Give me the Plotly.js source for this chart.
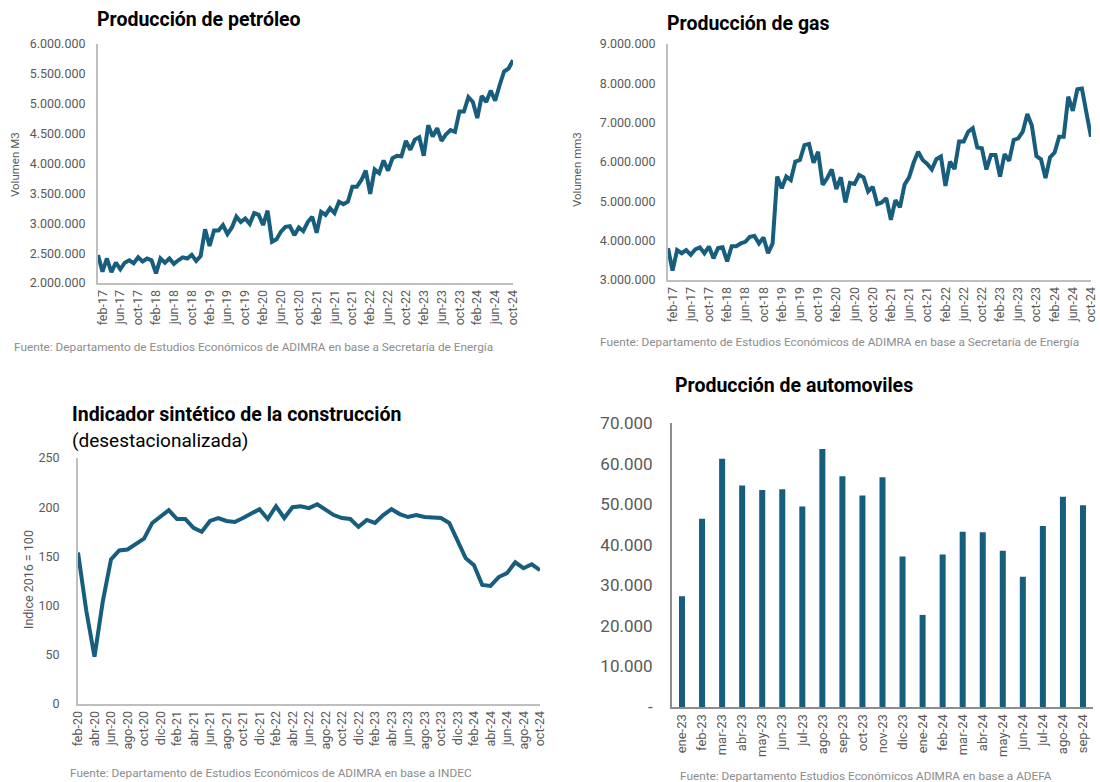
<!DOCTYPE html>
<html>
<head>
<meta charset="utf-8">
<script src="https://cdn.plot.ly/plotly-3.0.1.min.js"></script>
<style>html,body{margin:0;padding:0;background:#fff;}#chart{width:1100px;height:782px;}</style>
</head>
<body>
<div id="chart"></div>
<script>
// ---------- DATA ----------
const monthAbbr = ['ene','feb','mar','abr','may','jun','jul','ago','sep','oct','nov','dic'];

// Petróleo (m3), ene-17 .. oct-24
const oilValues = [
 2470000,2190000,2410000,2180000,2340000,2230000,2340000,2380000,2330000,2430000,
 2360000,2410000,2380000,2160000,2410000,2340000,2410000,2320000,2380000,2430000,
 2410000,2470000,2370000,2450000,2900000,2620000,2880000,2880000,2970000,2820000,
 2930000,3110000,3020000,3080000,2990000,3170000,3140000,2970000,3210000,2690000,
 2730000,2860000,2940000,2950000,2800000,2930000,2870000,3020000,3110000,2840000,
 3190000,3140000,3250000,3170000,3360000,3320000,3360000,3610000,3610000,3720000,
 3880000,3490000,3900000,3840000,4050000,3880000,4090000,4130000,4120000,4380000,
 4230000,4400000,4440000,4130000,4640000,4450000,4590000,4380000,4490000,4560000,
 4530000,4870000,4870000,5110000,5030000,4760000,5130000,5030000,5220000,5050000,
 5310000,5540000,5590000,5730000];

// Gas (mm3), ene-17 .. oct-24
const gasValues = [
 3810000,3240000,3760000,3680000,3760000,3640000,3780000,3830000,3680000,3850000,
 3550000,3810000,3830000,3470000,3860000,3860000,3930000,3970000,4100000,4120000,
 3930000,4080000,3680000,3930000,5630000,5330000,5630000,5540000,6010000,6050000,
 6430000,6460000,5980000,6260000,5420000,5590000,5810000,5310000,5610000,4970000,
 5470000,5440000,5670000,5610000,5250000,5370000,4930000,4970000,5080000,4530000,
 5030000,4850000,5420000,5610000,5980000,6260000,6050000,5950000,5810000,6070000,
 6140000,5390000,6010000,5820000,6520000,6520000,6770000,6860000,6370000,6350000,
 5810000,6180000,6180000,5630000,6200000,6030000,6560000,6600000,6770000,7220000,
 6920000,6150000,6070000,5590000,6120000,6240000,6640000,6640000,7660000,7300000,
 7850000,7870000,7250000,6640000];

const energyTicks = ['feb-17','jun-17','oct-17','feb-18','jun-18','oct-18','feb-19','jun-19','oct-19',
 'feb-20','jun-20','oct-20','feb-21','jun-21','oct-21','feb-22','jun-22','oct-22','feb-23','jun-23',
 'oct-23','feb-24','jun-24','oct-24'];

// Indicador sintético de la construcción, feb-20 .. oct-24
const constrValues = [154,95,48,104,147,156,157,163,168,184,
 190,197,188,188,179,175,186,189,186,185,
 189,193,198,188,201,189,200,201,199,203,
 197,192,189,188,180,187,184,192,198,193,
 190,192,190,189,189,184,167,148,141,121,
 120,129,133,144,138,142,136];
const constrTicks = ['feb-20','abr-20','jun-20','ago-20','oct-20','dic-20','feb-21','abr-21','jun-21',
 'ago-21','oct-21','dic-21','feb-22','abr-22','jun-22','ago-22','oct-22','dic-22','feb-23','abr-23',
 'jun-23','ago-23','oct-23','dic-23','feb-24','abr-24','jun-24','ago-24','oct-24'];

// Producción de automóviles
const autoMonths = ['ene-23','feb-23','mar-23','abr-23','may-23','jun-23','jul-23','ago-23','sep-23',
 'oct-23','nov-23','dic-23','ene-24','feb-24','mar-24','abr-24','may-24','jun-24','jul-24','ago-24','sep-24'];
const autoValues = [27300,46400,61200,54600,53500,53700,49400,63600,56900,52100,56600,37100,
 22700,37600,43200,43100,38500,32100,44600,51800,49700];
const autoTickVals = [0,10000,20000,30000,40000,50000,60000,70000];
const autoTickText = ['-','10.000','20.000','30.000','40.000','50.000','60.000','70.000'];

// ---------- helpers ----------
function monthRange(startMonth, startYear, count){
  const out=[]; let m=startMonth, y=startYear;
  for(let i=0;i<count;i++){ out.push(monthAbbr[m]+'-'+String(y).slice(-2)); m++; if(m>11){m=0;y++;} }
  return out;
}
const energyMonths = monthRange(0, 2017, oilValues.length);
const constrMonths = monthRange(1, 2020, constrValues.length);

const W=1100, H=782;
const px = v => v/W;
const py = v => 1 - v/H;

const LINE = '#165d7e';
const AXC = '#bfbfbf';
const TICKC = '#595959';
const SRC = '#8c8c8c';
const FONT = 'Roboto, "DejaVu Sans", sans-serif';

const traces = [
  {x: energyMonths, y: oilValues, type:'scatter', mode:'lines', line:{color:LINE,width:4}, xaxis:'x', yaxis:'y', hoverinfo:'skip'},
  {x: energyMonths, y: gasValues, type:'scatter', mode:'lines', line:{color:LINE,width:4}, xaxis:'x2', yaxis:'y2', hoverinfo:'skip'},
  {x: constrMonths, y: constrValues, type:'scatter', mode:'lines', line:{color:LINE,width:4}, xaxis:'x3', yaxis:'y3', hoverinfo:'skip'},
  {x: autoMonths, y: autoValues, type:'bar', marker:{color:LINE}, xaxis:'x4', yaxis:'y4', hoverinfo:'skip'}
];

function xax(domain, anchor, range, tickvals, size){
  return {domain, anchor, type:'category', range, tickvals, tickangle:-90, showgrid:false, zeroline:false,
    showline:true, linecolor:AXC, linewidth:2, ticks:'', tickfont:{family:FONT,size:size,color:TICKC}, fixedrange:true};
}
function yax(domain, anchor, range, dtick, size, extra){
  return Object.assign({domain, anchor, range, dtick, tickformat:',d', showgrid:false, zeroline:false,
    showline:true, linecolor:AXC, linewidth:2, ticks:'', ticklabelstandoff:8,
    tickfont:{family:FONT,size:size,color:TICKC}, fixedrange:true}, extra||{});
}
function note(text, x, y, size, color, extra){
  return Object.assign({text, x:px(x), y:py(y), xref:'paper', yref:'paper', xanchor:'left', yanchor:'middle',
    showarrow:false, font:{family:FONT,size:size,color:color}}, extra||{});
}

const layout = {
  width:W, height:H, margin:{l:0,r:0,t:0,b:0}, paper_bgcolor:'#fff', plot_bgcolor:'#fff',
  showlegend:false, separators:',.', bargap:0.7,
  font:{family:FONT},
  xaxis:  xax([px(98),px(513)], 'y', [0, oilValues.length-1], energyTicks, 12.5),
  yaxis:  yax([py(283),py(44)], 'x', [2000000,6000000], 500000, 12.5),
  xaxis2: xax([px(668),px(1091)], 'y2', [0, gasValues.length-1], energyTicks, 12.5),
  yaxis2: yax([py(280),py(44)], 'x2', [3000000,9000000], 1000000, 12.5),
  xaxis3: xax([px(78),px(540)], 'y3', [0, constrValues.length-1], constrTicks, 12.5),
  yaxis3: yax([py(704),py(458)], 'x3', [0,250], 50, 12.5, {ticklabelstandoff:14}),
  xaxis4: Object.assign(xax([px(672),px(1093)], 'y4', [-0.5, autoValues.length-0.5], autoMonths, 13), {linecolor:'#8c8c8c'}),
  yaxis4: yax([py(707),py(423)], 'x4', [0,70000], null, 17, {tickvals:autoTickVals, ticktext:autoTickText, linecolor:'#8c8c8c', ticklabelstandoff:14}),
  annotations: [
    note('<b>Producción de petróleo</b>', 95, 20, 19.5, '#000'),
    note('<b>Producción de gas</b>', 665, 24, 19.5, '#000'),
    note('<b>Indicador sintético de la construcción</b>', 70, 414, 19.5, '#000'),
    note('(desestacionalizada)', 70, 440, 19, '#000'),
    note('<b>Producción de automoviles</b>', 673, 385, 19.5, '#000'),
    note('Fuente: Departamento de Estudios Económicos de ADIMRA en base a Secretaría de Energía', 12, 347, 11.8, SRC),
    note('Fuente: Departamento de Estudios Económicos de ADIMRA en base a Secretaría de Energía', 598, 342, 11.8, SRC),
    note('Fuente: Departamento de Estudios Económicos de ADIMRA en base a INDEC', 68, 773, 11.8, SRC),
    note('Fuente: Departamento Estudios Económicos ADIMRA en base a ADEFA', 678, 776, 11.8, SRC),
    note('Volumen M3', 15, 165, 11.5, TICKC, {xanchor:'center', textangle:-90}),
    note('Volumen mm3', 577, 170, 11.5, TICKC, {xanchor:'center', textangle:-90}),
    note('Indice 2016 = 100', 28, 580, 12.5, TICKC, {xanchor:'center', textangle:-90})
  ]
};

Plotly.newPlot('chart', traces, layout, {displayModeBar:false, staticPlot:true});
</script>
</body>
</html>
